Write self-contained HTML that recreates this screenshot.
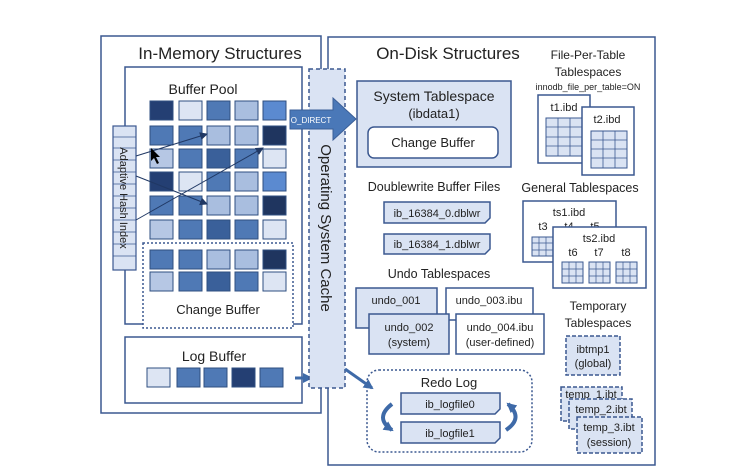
<!DOCTYPE html>
<html><head><meta charset="utf-8"><style>
html,body{margin:0;padding:0;background:#fff;}
svg{display:block;font-family:"Liberation Sans",sans-serif;}
text{fill:#222;}
</style></head><body>
<svg width="744" height="474" viewBox="0 0 744 474" xmlns="http://www.w3.org/2000/svg">
<defs>
<marker id="ah" markerWidth="8" markerHeight="8" refX="7" refY="4" orient="auto" markerUnits="userSpaceOnUse"><path d="M0,0 L8,4 L0,8 z" fill="#203864"/></marker>
<marker id="ab" markerWidth="10" markerHeight="10" refX="8" refY="5" orient="auto" markerUnits="userSpaceOnUse"><path d="M0,0 L10,5 L0,10 z" fill="#3e6aa8"/></marker>
</defs>
<!-- In-memory -->
<rect x="101" y="36" width="220" height="377" fill="#fff" stroke="#3b5890" stroke-width="1.5"/>
<text x="220" y="59" font-size="17" text-anchor="middle">In-Memory Structures</text>
<rect x="125" y="67" width="177" height="257" fill="#fff" stroke="#3b5890" stroke-width="1.5"/>
<text x="203" y="94" font-size="14" text-anchor="middle">Buffer Pool</text>
<rect x="143" y="243" width="150" height="85" fill="#fff" stroke="#3b5890" stroke-width="1.5" stroke-dasharray="2,2"/>
<text x="218" y="314" font-size="13" text-anchor="middle">Change Buffer</text>
<g stroke="#2f4f80" stroke-width="1">
<!-- row colors -->
<g id="r1"><rect x="150" y="101" width="23" height="19" fill="#243f73"/><rect x="179" y="101" width="23" height="19" fill="#dde5f3"/><rect x="207" y="101" width="23" height="19" fill="#4f79b5"/><rect x="235" y="101" width="23" height="19" fill="#a9bedf"/><rect x="263" y="101" width="23" height="19" fill="#5b8ad0"/></g>
<g><rect x="150" y="126" width="23" height="19" fill="#4f79b5"/><rect x="179" y="126" width="23" height="19" fill="#4f79b5"/><rect x="207" y="126" width="23" height="19" fill="#a9bedf"/><rect x="235" y="126" width="23" height="19" fill="#a9bedf"/><rect x="263" y="126" width="23" height="19" fill="#1f355f"/></g>
<g><rect x="150" y="149" width="23" height="19" fill="#b6c7e4"/><rect x="179" y="149" width="23" height="19" fill="#4f79b5"/><rect x="207" y="149" width="23" height="19" fill="#3a609a"/><rect x="235" y="149" width="23" height="19" fill="#4f79b5"/><rect x="263" y="149" width="23" height="19" fill="#dde5f3"/></g>
<g><rect x="150" y="172" width="23" height="19" fill="#243f73"/><rect x="179" y="172" width="23" height="19" fill="#dde5f3"/><rect x="207" y="172" width="23" height="19" fill="#4f79b5"/><rect x="235" y="172" width="23" height="19" fill="#a9bedf"/><rect x="263" y="172" width="23" height="19" fill="#5b8ad0"/></g>
<g><rect x="150" y="196" width="23" height="19" fill="#4f79b5"/><rect x="179" y="196" width="23" height="19" fill="#4f79b5"/><rect x="207" y="196" width="23" height="19" fill="#a9bedf"/><rect x="235" y="196" width="23" height="19" fill="#a9bedf"/><rect x="263" y="196" width="23" height="19" fill="#1f355f"/></g>
<g><rect x="150" y="220" width="23" height="19" fill="#b6c7e4"/><rect x="179" y="220" width="23" height="19" fill="#4f79b5"/><rect x="207" y="220" width="23" height="19" fill="#3a609a"/><rect x="235" y="220" width="23" height="19" fill="#4f79b5"/><rect x="263" y="220" width="23" height="19" fill="#dde5f3"/></g>
<g><rect x="150" y="250" width="23" height="19" fill="#4f79b5"/><rect x="179" y="250" width="23" height="19" fill="#4f79b5"/><rect x="207" y="250" width="23" height="19" fill="#a9bedf"/><rect x="235" y="250" width="23" height="19" fill="#a9bedf"/><rect x="263" y="250" width="23" height="19" fill="#1f355f"/></g>
<g><rect x="150" y="272" width="23" height="19" fill="#b6c7e4"/><rect x="179" y="272" width="23" height="19" fill="#4f79b5"/><rect x="207" y="272" width="23" height="19" fill="#3a609a"/><rect x="235" y="272" width="23" height="19" fill="#4f79b5"/><rect x="263" y="272" width="23" height="19" fill="#dde5f3"/></g>
</g>
<!-- AHI -->
<rect x="113" y="126" width="23" height="144" fill="#dae3f3" stroke="#3b5890" stroke-width="1.2"/>
<g stroke="#3b5890" stroke-width="0.8">
<line x1="113" y1="137" x2="136" y2="137"/><line x1="113" y1="148" x2="136" y2="148"/><line x1="113" y1="160" x2="136" y2="160"/><line x1="113" y1="172" x2="136" y2="172"/><line x1="113" y1="184" x2="136" y2="184"/><line x1="113" y1="196" x2="136" y2="196"/><line x1="113" y1="208" x2="136" y2="208"/><line x1="113" y1="220" x2="136" y2="220"/><line x1="113" y1="232" x2="136" y2="232"/><line x1="113" y1="244" x2="136" y2="244"/><line x1="113" y1="256" x2="136" y2="256"/>
</g>
<text transform="translate(120,198) rotate(90)" font-size="11" text-anchor="middle">Adaptive Hash Index</text>
<g stroke="#203864" stroke-width="1" fill="none" marker-end="url(#ah)">
<line x1="136" y1="156" x2="207" y2="134"/>
<line x1="136" y1="176" x2="207" y2="204"/>
<line x1="136" y1="220" x2="263" y2="148"/>
</g>
<path d="M151,148 L151,161 L154,158 L157,164 L159,163 L156,157 L160,157 z" fill="#000"/>
<!-- Log buffer -->
<rect x="125" y="337" width="177" height="66" fill="#fff" stroke="#3b5890" stroke-width="1.5"/>
<text x="214" y="361" font-size="14" text-anchor="middle">Log Buffer</text>
<g stroke="#2f4f80"><rect x="147" y="368" width="23" height="19" fill="#dde5f3"/><rect x="177" y="368" width="23" height="19" fill="#4f79b5"/><rect x="204" y="368" width="23" height="19" fill="#4f79b5"/><rect x="232" y="368" width="23" height="19" fill="#243f73"/><rect x="260" y="368" width="23" height="19" fill="#4f79b5"/></g>
<line x1="295" y1="378" x2="311" y2="378" stroke="#3e6aa8" stroke-width="3" marker-end="url(#ab)"/>
<!-- On disk -->
<rect x="328" y="37" width="327" height="428" fill="#fff" stroke="#3b5890" stroke-width="1.5"/>
<!-- OS cache -->
<rect x="309" y="69" width="36" height="319" fill="#dae3f3" stroke="#3b5890" stroke-width="1.5" stroke-dasharray="4,3"/>
<text transform="translate(321,228) rotate(90)" font-size="15" text-anchor="middle">Operating System Cache</text>
<!-- O_DIRECT arrow -->
<path d="M290,110 L333,110 L333,98 L356,119 L333,140 L333,129 L290,129 z" fill="#4a78b8" stroke="#3b5f98"/>
<text x="311" y="123" font-size="8" text-anchor="middle" style="fill:#fff">O_DIRECT</text>
<text x="448" y="59" font-size="17" text-anchor="middle">On-Disk Structures</text>
<!-- System tablespace -->
<rect x="357" y="81" width="154" height="86" fill="#dae3f3" stroke="#3b5890" stroke-width="1.5"/>
<text x="434" y="101" font-size="14" text-anchor="middle">System Tablespace</text>
<text x="434" y="118" font-size="13" text-anchor="middle">(ibdata1)</text>
<rect x="368" y="127" width="130" height="31" rx="6" fill="#fff" stroke="#3b5890" stroke-width="1.5"/>
<text x="433" y="147" font-size="13" text-anchor="middle">Change Buffer</text>
<!-- File-per-table -->
<text x="588" y="59" font-size="12" text-anchor="middle">File-Per-Table</text>
<text x="588" y="76" font-size="12" text-anchor="middle">Tablespaces</text>
<text x="588" y="90" font-size="9" text-anchor="middle">innodb_file_per_table=ON</text>
<rect x="538" y="95" width="52" height="68" fill="#fff" stroke="#3b5890" stroke-width="1.5"/>
<text x="564" y="111" font-size="11" text-anchor="middle">t1.ibd</text>
<g stroke="#3b5890" fill="#dae3f3"><rect x="546" y="118" width="37" height="38"/></g>
<g stroke="#3b5890" stroke-width="0.8"><line x1="558" y1="118" x2="558" y2="156"/><line x1="570" y1="118" x2="570" y2="156"/><line x1="546" y1="127" x2="583" y2="127"/><line x1="546" y1="137" x2="583" y2="137"/><line x1="546" y1="146" x2="583" y2="146"/></g>
<rect x="582" y="107" width="52" height="68" fill="#fff" stroke="#3b5890" stroke-width="1.5"/>
<text x="607" y="123" font-size="11" text-anchor="middle">t2.ibd</text>
<g stroke="#3b5890" fill="#dae3f3"><rect x="591" y="131" width="36" height="37"/></g>
<g stroke="#3b5890" stroke-width="0.8"><line x1="603" y1="131" x2="603" y2="168"/><line x1="615" y1="131" x2="615" y2="168"/><line x1="591" y1="140" x2="627" y2="140"/><line x1="591" y1="149" x2="627" y2="149"/><line x1="591" y1="158" x2="627" y2="158"/></g>
<!-- doublewrite -->
<text x="434" y="191" font-size="12.5" text-anchor="middle">Doublewrite Buffer Files</text>
<path d="M384,202 H490 V218 L485,223 H384 z" fill="#dae3f3" stroke="#3b5890" stroke-width="1.5"/>
<text x="437" y="217" font-size="11" text-anchor="middle">ib_16384_0.dblwr</text>
<path d="M384,234 H490 V249 L485,254 H384 z" fill="#dae3f3" stroke="#3b5890" stroke-width="1.5"/>
<text x="437" y="248" font-size="11" text-anchor="middle">ib_16384_1.dblwr</text>
<!-- General -->
<text x="580" y="192" font-size="12.5" text-anchor="middle">General Tablespaces</text>
<rect x="523" y="201" width="93" height="61" fill="#fff" stroke="#3b5890" stroke-width="1.5"/>
<text x="569" y="216" font-size="11" text-anchor="middle">ts1.ibd</text>
<text x="543" y="230" font-size="11" text-anchor="middle">t3</text><text x="569" y="230" font-size="11" text-anchor="middle">t4</text><text x="595" y="230" font-size="11" text-anchor="middle">t5</text>
<rect x="532" y="237" width="21" height="19" fill="#dae3f3" stroke="#3b5890"/>
<rect x="553" y="227" width="93" height="61" fill="#fff" stroke="#3b5890" stroke-width="1.5"/>
<text x="599" y="242" font-size="11" text-anchor="middle">ts2.ibd</text>
<text x="573" y="256" font-size="11" text-anchor="middle">t6</text><text x="599" y="256" font-size="11" text-anchor="middle">t7</text><text x="626" y="256" font-size="11" text-anchor="middle">t8</text>
<g fill="#dae3f3" stroke="#3b5890"><rect x="562" y="262" width="21" height="21"/><rect x="589" y="262" width="21" height="21"/><rect x="616" y="262" width="21" height="21"/></g>
<g stroke="#3b5890" stroke-width="0.7">
<line x1="539" y1="237" x2="539" y2="256"/><line x1="546" y1="237" x2="546" y2="256"/><line x1="532" y1="243" x2="553" y2="243"/><line x1="532" y1="250" x2="553" y2="250"/>
<line x1="569" y1="262" x2="569" y2="283"/><line x1="576" y1="262" x2="576" y2="283"/><line x1="562" y1="269" x2="583" y2="269"/><line x1="562" y1="276" x2="583" y2="276"/>
<line x1="596" y1="262" x2="596" y2="283"/><line x1="603" y1="262" x2="603" y2="283"/><line x1="589" y1="269" x2="610" y2="269"/><line x1="589" y1="276" x2="610" y2="276"/>
<line x1="623" y1="262" x2="623" y2="283"/><line x1="630" y1="262" x2="630" y2="283"/><line x1="616" y1="269" x2="637" y2="269"/><line x1="616" y1="276" x2="637" y2="276"/>
</g>
<!-- Undo -->
<text x="439" y="278" font-size="12.5" text-anchor="middle">Undo Tablespaces</text>
<rect x="356" y="288" width="81" height="40" fill="#dae3f3" stroke="#3b5890" stroke-width="1.5"/>
<text x="396" y="304" font-size="11" text-anchor="middle">undo_001</text>
<rect x="446" y="288" width="87" height="32" fill="#fff" stroke="#3b5890" stroke-width="1.5"/>
<text x="489" y="304" font-size="11" text-anchor="middle">undo_003.ibu</text>
<rect x="369" y="314" width="80" height="40" fill="#dae3f3" stroke="#3b5890" stroke-width="1.5"/>
<text x="409" y="331" font-size="11" text-anchor="middle">undo_002</text>
<text x="409" y="346" font-size="11" text-anchor="middle">(system)</text>
<rect x="456" y="314" width="88" height="40" fill="#fff" stroke="#3b5890" stroke-width="1.5"/>
<text x="500" y="331" font-size="11" text-anchor="middle">undo_004.ibu</text>
<text x="500" y="346" font-size="11" text-anchor="middle">(user-defined)</text>
<!-- Temporary -->
<text x="598" y="310" font-size="12" text-anchor="middle">Temporary</text>
<text x="598" y="327" font-size="12" text-anchor="middle">Tablespaces</text>
<rect x="566" y="336" width="54" height="39" fill="#dae3f3" stroke="#3b5890" stroke-width="1.5" stroke-dasharray="4,2"/>
<text x="593" y="353" font-size="11" text-anchor="middle">ibtmp1</text>
<text x="593" y="367" font-size="11" text-anchor="middle">(global)</text>
<rect x="561" y="387" width="61" height="34" fill="#dae3f3" stroke="#3b5890" stroke-width="1.5" stroke-dasharray="4,2"/>
<text x="591" y="398" font-size="11" text-anchor="middle">temp_1.ibt</text>
<rect x="569" y="399" width="63" height="30" fill="#dae3f3" stroke="#3b5890" stroke-width="1.5" stroke-dasharray="4,2"/>
<text x="601" y="413" font-size="11" text-anchor="middle">temp_2.ibt</text>
<rect x="577" y="417" width="65" height="36" fill="#dae3f3" stroke="#3b5890" stroke-width="1.5" stroke-dasharray="4,2"/>
<text x="609" y="431" font-size="11" text-anchor="middle">temp_3.ibt</text>
<text x="609" y="446" font-size="11" text-anchor="middle">(session)</text>
<!-- Redo -->
<rect x="367" y="370" width="165" height="82" rx="12" fill="#fff" stroke="#3b5890" stroke-width="1.5" stroke-dasharray="2,2"/>
<text x="449" y="387" font-size="13" text-anchor="middle">Redo Log</text>
<path d="M401,393 H500 V409 L495,414 H401 z" fill="#dae3f3" stroke="#3b5890" stroke-width="1.5"/>
<text x="450" y="408" font-size="11" text-anchor="middle">ib_logfile0</text>
<path d="M401,422 H500 V438 L495,443 H401 z" fill="#dae3f3" stroke="#3b5890" stroke-width="1.5"/>
<text x="450" y="437" font-size="11" text-anchor="middle">ib_logfile1</text>
<path d="M392,404 Q374,418 392,430" fill="none" stroke="#3e6aa8" stroke-width="4" marker-end="url(#ab)"/>
<path d="M506,430 Q524,418 508,404" fill="none" stroke="#3e6aa8" stroke-width="4" marker-end="url(#ab)"/>
<line x1="345" y1="369" x2="372" y2="388" stroke="#3e6aa8" stroke-width="3" marker-end="url(#ab)"/>
</svg>
</body></html>
